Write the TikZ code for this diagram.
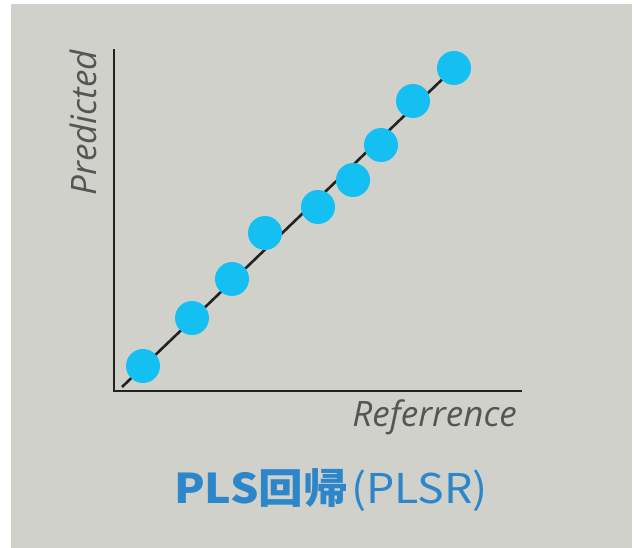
\documentclass[tikz,border=0pt]{standalone}
\usepackage{fontspec}
\setsansfont{Open Sans}
\newfontfamily\jpfont{Noto Sans CJK JP}
\usetikzlibrary{positioning}
\definecolor{panel}{HTML}{D1D1CC}
\definecolor{dotblue}{HTML}{14C0F2}
\definecolor{titleblue}{HTML}{2C86C9}
\definecolor{axisline}{HTML}{222222}
\definecolor{labelgray}{HTML}{555555}
\tikzset{
  pdot/.style={circle,fill=dotblue,minimum size=34pt,inner sep=0pt},
  paxis/.style={line width=2.6pt,draw=axisline},
  pfit/.style={line width=2.6pt,draw=axisline},
  plab/.style={text=labelgray,font=\sffamily\itshape\fontsize{35}{38}\selectfont,inner sep=0pt}
}
\begin{document}
\begin{tikzpicture}[x=1pt,y=-1pt]
  \useasboundingbox (0,0) rectangle (635,548);
  \fill[panel] (11,4) rectangle (632,548);
  % axes
  \coordinate (ytop) at (114,49);
  \coordinate (xend) at (522,391);
  \draw[paxis] (ytop) |- (xend);
  \node[plab,rotate=90,anchor=base east] (ylab) at (96,50) {Predicted};
  \node[plab,anchor=base east] (xlab) at (517,426) {Referrence};
  % fitted line behind the points
  \coordinate (lo) at (122,387);
  \coordinate (hi) at (454,68);
  \draw[pfit] (lo) -- (hi);
  \foreach \x/\y/\n in {143/366/1,192/318/2,232/279/3,265/233/4,318/207/5,353/180/6,381/145/7,413/101/8,454/68/9}{
    \node[pdot] (p\n) at (\x,\y) {};
  }
  \node[text=titleblue,anchor=base west,inner sep=0pt,xscale=1.09,font=\fontsize{41}{44}\selectfont] (title) at (174,503)
    {{\jpfont\bfseries PLS回帰}\kern3pt{\jpfont (PLSR)}};
\end{tikzpicture}
\end{document}
